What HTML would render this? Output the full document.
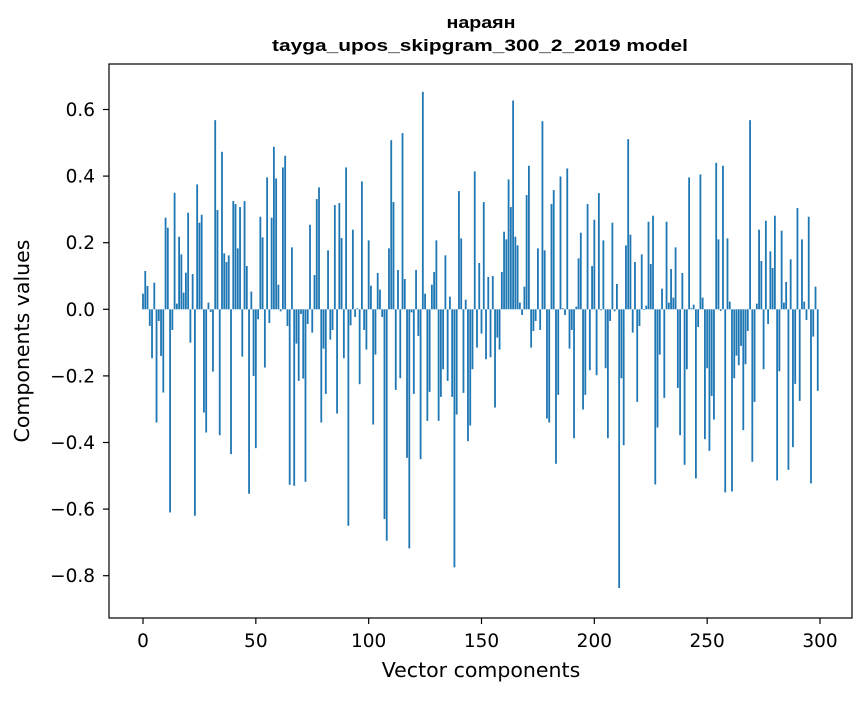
<!DOCTYPE html>
<html><head><meta charset="utf-8"><style>
html,body{margin:0;padding:0;background:#fff;}
svg text{font-family:"DejaVu Sans","Liberation Sans",sans-serif;fill:#000;}
svg text.lib{font-family:"Liberation Sans","DejaVu Sans",sans-serif;}
</style></head><body>
<svg id="chart" width="867" height="696" viewBox="0 0 867 696" xmlns="http://www.w3.org/2000/svg">
<rect x="0" y="0" width="867" height="696" fill="#fff"/>
<text class="lib" x="481" y="28" font-size="17" font-weight="bold" text-anchor="middle" textLength="69" lengthAdjust="spacingAndGlyphs">нараян</text>
<text class="lib" x="480" y="51" font-size="17" font-weight="bold" text-anchor="middle" textLength="416" lengthAdjust="spacingAndGlyphs">tayga_upos_skipgram_300_2_2019 model</text>
<g id="bars"></g>
<g id="axes"></g>
<text x="481" y="677" font-size="20.5" text-anchor="middle">Vector components</text>
<text x="0" y="0" font-size="20.5" text-anchor="middle" transform="translate(29,341) rotate(-90)">Components values</text>
</svg>
<script>
const values = [
0.047,0.115,0.07,-0.05,-0.147,0.08,-0.34,-0.035,-0.14,-0.25,
0.275,0.245,-0.61,-0.062,0.35,0.017,0.218,0.165,0.05,0.11,
0.29,-0.1,0.106,-0.62,0.375,0.26,0.284,-0.31,-0.37,0.02,
-0.008,-0.187,0.568,0.298,-0.378,0.473,0.168,0.142,0.162,-0.435,
0.325,0.316,0.183,0.307,-0.142,0.325,0.13,-0.554,0.053,-0.2,
-0.417,-0.03,0.278,0.216,-0.175,0.396,-0.041,0.275,0.488,0.393,
0.074,-0.006,0.426,0.461,-0.05,-0.527,0.186,-0.53,-0.103,-0.215,
-0.014,-0.208,-0.518,-0.044,0.254,-0.07,0.103,0.331,0.366,-0.34,
-0.118,-0.254,0.177,-0.091,-0.062,0.313,-0.313,0.319,0.214,-0.147,
0.426,-0.65,-0.048,0.239,-0.023,0.003,-0.225,0.384,-0.062,-0.121,
0.207,0.071,-0.346,-0.136,0.109,0.059,-0.023,-0.63,-0.695,0.183,
0.508,0.322,-0.242,0.118,-0.207,0.529,0.091,-0.446,-0.718,-0.009,
-0.254,0.118,-0.08,-0.45,0.653,0.047,-0.335,-0.248,0.074,0.112,
0.207,-0.335,-0.263,-0.18,0.162,-0.215,0.038,-0.263,-0.775,-0.316,
0.355,0.213,-0.251,0.029,-0.396,-0.349,-0.18,0.414,-0.115,0.139,
-0.073,0.322,-0.15,0.097,-0.144,0.1,-0.295,-0.085,-0.121,0.112,
0.233,0.21,0.39,0.307,0.627,0.218,0.192,0.02,-0.017,0.068,
0.343,0.431,-0.115,-0.065,-0.035,0.183,-0.062,0.565,0.177,-0.328,
-0.34,0.316,0.358,-0.464,-0.257,0.399,0.003,-0.017,0.423,-0.118,
-0.062,-0.387,0.008,0.153,0.23,-0.301,-0.257,0.316,-0.183,0.13,
0.269,-0.198,0.349,-0.003,0.207,-0.177,-0.387,-0.035,0.26,-0.006,
0.076,-0.837,-0.207,-0.408,0.192,0.511,0.224,-0.07,0.142,-0.278,
-0.05,0.165,-0.002,0.011,0.263,0.136,0.281,-0.526,-0.355,-0.136,
0.062,-0.266,0.263,0.02,0.121,0.035,0.186,-0.236,-0.378,0.109,
-0.467,-0.18,0.396,0.003,0.014,-0.508,-0.053,0.405,0.035,-0.39,
-0.177,-0.425,-0.26,-0.331,0.44,0.21,-0.005,0.431,-0.55,0.213,
0.023,-0.547,-0.207,-0.139,-0.168,-0.11,-0.363,-0.165,-0.065,0.568,
-0.458,-0.278,0.017,0.239,0.145,-0.18,0.266,-0.044,0.174,0.124,
0.281,-0.514,-0.186,0.236,0.02,0.082,-0.482,0.15,-0.414,-0.224,
0.304,-0.275,0.21,0.023,-0.032,0.278,-0.523,-0.082,0.068,-0.245
];
const xTicks = [0,50,100,150,200,250,300];
const yTicks = [-0.8,-0.6,-0.4,-0.2,0.0,0.2,0.4,0.6];
const yTickLabels = ["\u22120.8","\u22120.6","\u22120.4","\u22120.2","0.0","0.2","0.4","0.6"];

const NS = "http://www.w3.org/2000/svg";
const L = 109, R = 852, T = 64, B = 618;
const x0px = 143, xUnit = 2.2567;
const y0px = 309.3, yUnit = 333.0;
function xs(v){ return x0px + v * xUnit; }
function ys(v){ return y0px - v * yUnit; }

const bars = document.getElementById('bars');
values.forEach((v, i) => {
  const r = document.createElementNS(NS, 'rect');
  const a = ys(Math.max(v, 0)), b = ys(Math.min(v, 0));
  r.setAttribute('x', xs(i - 0.4));
  r.setAttribute('y', a);
  r.setAttribute('width', 0.8 * xUnit);
  r.setAttribute('height', Math.max(b - a, 0));
  r.setAttribute('fill', '#1f77b4');
  
  
  bars.appendChild(r);
});

const axes = document.getElementById('axes');
const frame = document.createElementNS(NS, 'rect');
frame.setAttribute('x', L); frame.setAttribute('y', T);
frame.setAttribute('width', R - L); frame.setAttribute('height', B - T);
frame.setAttribute('fill', 'none'); frame.setAttribute('stroke', '#000'); frame.setAttribute('stroke-width', '1.2');


axes.appendChild(frame);

xTicks.forEach(t => {
  const ln = document.createElementNS(NS, 'line');
  ln.setAttribute('x1', xs(t)); ln.setAttribute('x2', xs(t));
  ln.setAttribute('y1', B); ln.setAttribute('y2', B + 6);
  ln.setAttribute('stroke', '#000'); ln.setAttribute('stroke-width', '1.2');
  
  
  axes.appendChild(ln);
  const tx = document.createElementNS(NS, 'text');
  tx.setAttribute('x', xs(t)); tx.setAttribute('y', B + 29);
  tx.setAttribute('font-size', '18.5'); tx.setAttribute('text-anchor', 'middle');
  tx.textContent = String(t);
  
  
  axes.appendChild(tx);
});
yTicks.forEach((t, k) => {
  const ln = document.createElementNS(NS, 'line');
  ln.setAttribute('x1', L - 6); ln.setAttribute('x2', L);
  ln.setAttribute('y1', ys(t)); ln.setAttribute('y2', ys(t));
  ln.setAttribute('stroke', '#000'); ln.setAttribute('stroke-width', '1.2');
  
  
  axes.appendChild(ln);
  const tx = document.createElementNS(NS, 'text');
  tx.setAttribute('x', L - 14); tx.setAttribute('y', ys(t) + 6.5);
  tx.setAttribute('font-size', '18.5'); tx.setAttribute('text-anchor', 'end');
  tx.textContent = yTickLabels[k];
  
  
  axes.appendChild(tx);
});
</script>
</body></html>
